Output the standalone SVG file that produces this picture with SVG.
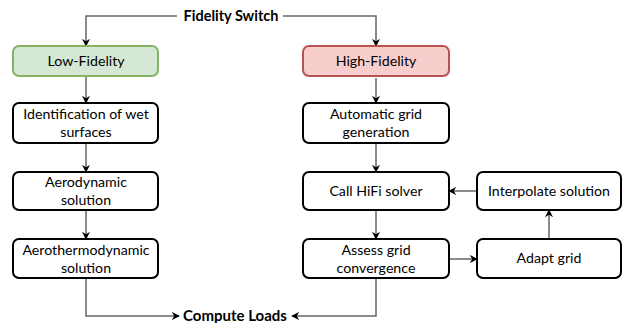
<svg xmlns="http://www.w3.org/2000/svg" width="623" height="323" viewBox="0 0 623 323">
<style>
.box{fill:#fff;stroke:#000;stroke-width:2}
.lo{fill:#d5e8d4;stroke:#82b366;stroke-width:2}
.hi{fill:#f8cecc;stroke:#b85450;stroke-width:2}
text{font-family:Lato,"Liberation Sans",sans-serif;font-size:14.2px;text-anchor:middle;fill:#000}
.b{font-weight:bold;font-size:14.5px}
.b2{font-weight:bold;font-size:15px}
.c{fill:none;stroke:#666;stroke-width:1.5}
</style>
<defs>
<marker id="a" viewBox="0 0 10 10" refX="9" refY="5" markerWidth="8" markerHeight="8" markerUnits="userSpaceOnUse" orient="auto">
<path d="M0,0 L10,5 L0,10 L3,5 Z" fill="#000"/>
</marker>
</defs>
<g id="connectors">
<path class="c" d="M177,16 H86 V46" marker-end="url(#a)"/>
<path class="c" d="M283,16 H376 V46" marker-end="url(#a)"/>
<path class="c" d="M86,76 V103" marker-end="url(#a)"/>
<path class="c" d="M86,143 V172" marker-end="url(#a)"/>
<path class="c" d="M86,210 V239" marker-end="url(#a)"/>
<path class="c" d="M86,278 V316 H179" marker-end="url(#a)"/>
<path class="c" d="M376,78 V103" marker-end="url(#a)"/>
<path class="c" d="M376,143 V172" marker-end="url(#a)"/>
<path class="c" d="M376,210 V239" marker-end="url(#a)"/>
<path class="c" d="M376,278 V316 H292" marker-end="url(#a)"/>
<path class="c" d="M449,259 H477" marker-end="url(#a)"/>
<path class="c" d="M549,239 V210" marker-end="url(#a)"/>
<path class="c" d="M477,191 H449" marker-end="url(#a)"/>
</g>
<g id="fidelity-switch"><text class="b" x="231" y="21">Fidelity Switch</text></g>
<g id="compute-loads"><text class="b2" x="235" y="321">Compute Loads</text></g>
<g id="low-fidelity"><rect class="lo" x="13" y="46" width="145" height="30" rx="6"/><text x="86" y="66">Low-Fidelity</text></g>
<g id="identification"><rect class="box" x="13" y="103" width="145" height="40" rx="6"/><text x="86" y="119">Identification of wet</text><text x="86" y="137">surfaces</text></g>
<g id="aerodynamic"><rect class="box" x="13" y="172" width="145" height="38" rx="6"/><text x="86" y="187">Aerodynamic</text><text x="86" y="205">solution</text></g>
<g id="aerothermodynamic"><rect class="box" x="13" y="239" width="145" height="39" rx="6"/><text x="86" y="255">Aerothermodynamic</text><text x="86" y="273">solution</text></g>
<g id="high-fidelity"><rect class="hi" x="303" y="46" width="146" height="30" rx="6"/><text x="376" y="66">High-Fidelity</text></g>
<g id="automatic-grid"><rect class="box" x="303" y="103" width="146" height="40" rx="6"/><text x="376" y="119">Automatic grid</text><text x="376" y="137">generation</text></g>
<g id="call-hifi"><rect class="box" x="303" y="172" width="146" height="38" rx="6"/><text x="376" y="196">Call HiFi solver</text></g>
<g id="assess-grid"><rect class="box" x="303" y="239" width="146" height="39" rx="6"/><text x="376" y="255">Assess grid</text><text x="376" y="273">convergence</text></g>
<g id="interpolate"><rect class="box" x="477" y="172" width="144" height="38" rx="6"/><text x="549" y="196">Interpolate solution</text></g>
<g id="adapt-grid"><rect class="box" x="477" y="239" width="144" height="39" rx="6"/><text x="549" y="263">Adapt grid</text></g>
</svg>
